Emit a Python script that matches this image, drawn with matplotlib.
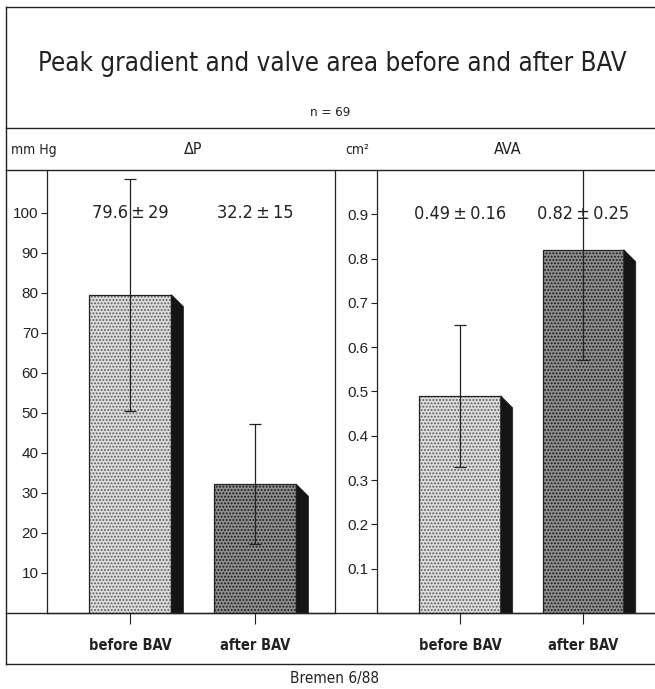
import matplotlib
matplotlib.use('Agg')
import matplotlib.pyplot as plt
from matplotlib.patches import Polygon

plt.rcParams['font.family'] = ['DejaVu Sans']
plt.rcParams['font.stretch'] = 'condensed'
plt.rcParams['hatch.linewidth'] = 0.9

# data
groups = ['before BAV', 'after BAV']
dp_mean = [79.6, 32.2]
dp_sd = [29, 15]
ava_mean = [0.49, 0.82]
ava_sd = [0.16, 0.25]
dp_ticks = [10, 20, 30, 40, 50, 60, 70, 80, 90, 100]
ava_ticks = [0.1, 0.2, 0.3, 0.4, 0.5, 0.6, 0.7, 0.8, 0.9]

W, H = 655, 689
INK = '#222222'
faces = ['#dcdcdc', '#8e8e8e']
dots = ['#5a5a5a', '#161616']


def fig_box(x0, y0, x1, y1):
    # pixel box (top-left origin) -> figure fraction rect
    return [x0 / W, 1 - y1 / H, (x1 - x0) / W, (y1 - y0) / H]


def panel(ax, means, sds, ymax, ticks, xlim, fmt, tickfmt):
    x = [0, 1]
    width = 0.66
    ax.set_xlim(*xlim)
    ax.set_ylim(0, ymax)
    dx = 0.097
    dy = ymax * 12 / 443
    for i in range(2):
        ax.bar(x[i], means[i], width=width, color=faces[i], hatch='.....',
               edgecolor=dots[i], linewidth=0, zorder=2)
        ax.bar(x[i], means[i], width=width, fill=False, edgecolor=INK,
               linewidth=0.9, zorder=3)
        xr = x[i] + width / 2
        side = Polygon([(xr, means[i]), (xr + dx, means[i] - dy),
                        (xr + dx, 0), (xr, 0)], closed=True,
                       facecolor='#151515', edgecolor=INK, linewidth=0.6, zorder=3)
        ax.add_patch(side)
    ax.errorbar(x, means, yerr=sds, fmt='none', ecolor=INK, elinewidth=0.9,
                capsize=4, capthick=0.9, zorder=5)
    for i in range(2):
        ax.text(x[i], ticks[-1], fmt.format(means[i], sds[i]), ha='center',
                va='center', fontsize=13, color=INK, zorder=6)
    ax.set_yticks(ticks)
    ax.set_yticklabels([tickfmt.format(t) for t in ticks],
                       family=['Liberation Sans', 'DejaVu Sans'], stretch='normal')
    ax.set_xticks(x)
    ax.set_xticklabels(groups, fontweight='bold')
    ax.tick_params(axis='y', direction='out', length=4, width=0.8,
                   labelsize=11, pad=2, colors=INK)
    ax.tick_params(axis='x', direction='out', length=8, width=0.8,
                   labelsize=10.5, pad=10, colors=INK)
    ax.spines['top'].set_visible(False)
    for s in ['left', 'bottom', 'right']:
        ax.spines[s].set_color(INK)
        ax.spines[s].set_linewidth(0.9)
    ax.set_facecolor('none')


fig = plt.figure(figsize=(W / 100, H / 100), dpi=100)

# frame and header rows
frame = fig.add_axes([0, 0, 1, 1])
frame.set_xlim(0, W)
frame.set_ylim(H, 0)
frame.axis('off')
for y in [7, 128, 170, 613, 664]:
    frame.plot([6, W], [y, y], color=INK, lw=1.0)
frame.plot([6, 6], [7, 664], color=INK, lw=1.0)

frame.text(332, 64, 'Peak gradient and valve area before and after BAV',
           ha='center', va='center', fontsize=18.5, color=INK)
frame.text(330, 113, 'n = 69', ha='center', va='center', fontsize=9.5, color=INK)
frame.text(11, 150, 'mm Hg', ha='left', va='center', fontsize=10, color=INK)
frame.text(193, 150, 'ΔP', ha='center', va='center', fontsize=11.5, color=INK)
frame.text(345, 150, 'cm²', ha='left', va='center', fontsize=10, color=INK)
frame.text(508, 150, 'AVA', ha='center', va='center', fontsize=11.5, color=INK)
frame.text(335, 678, 'Bremen 6/88', ha='center', va='center', fontsize=11,
           color=INK)

ax1 = fig.add_axes(fig_box(47, 170, 335, 613))
panel(ax1, dp_mean, dp_sd, 443 / 4.0, dp_ticks, (-0.664, 1.64),
      '{:.1f}\u2009±\u2009{:d}', '{:d}')

ax2 = fig.add_axes(fig_box(377, 170, 657, 613))
panel(ax2, ava_mean, ava_sd, 443 / 443.0, ava_ticks, (-0.675, 1.6),
      '{:.2f}\u2009±\u2009{:.2f}', '{:.1f}')
ax2.spines['right'].set_visible(False)

fig.savefig('out.png', dpi=100, facecolor='white')
